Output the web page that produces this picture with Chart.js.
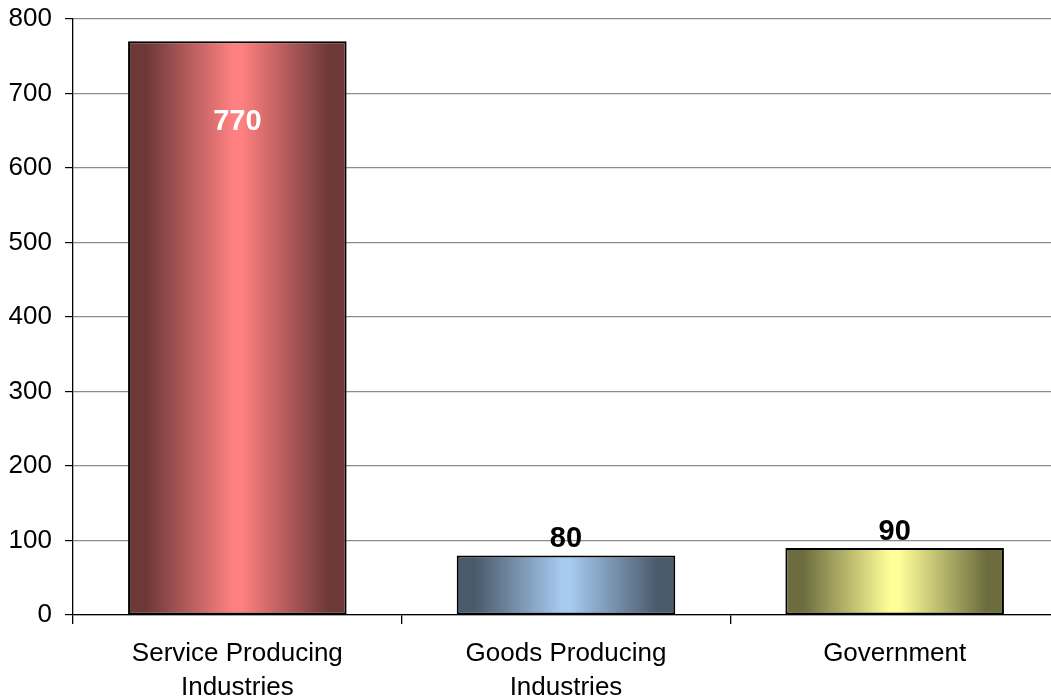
<!DOCTYPE html>
<html>
<head>
<meta charset="utf-8">
<script src="https://cdn.jsdelivr.net/npm/chart.js@4/dist/chart.umd.min.js"></script>
<style>
  html, body { margin: 0; padding: 0; background: #fff; overflow: hidden; }
  #wrap { position: absolute; left: 0; top: 0; width: 1059px; height: 696px; }
</style>
</head>
<body>
<div id="wrap"><canvas id="c"></canvas></div>
<script>
const categories = [["Service Producing", "Industries"], ["Goods Producing", "Industries"], ["Government"]];
const values = [770, 80, 90];
const darkColors = ["#6c3838", "#4a596b", "#6c6c3e"];
const lightColors = ["#ff8080", "#a6caf0", "#ffff99"];
const yTicks = [0, 100, 200, 300, 400, 500, 600, 700, 800];

const BAR_PCT = 0.665;

function barGradient(ctx) {
  const chart = ctx.chart;
  const i = ctx.dataIndex;
  const xs = chart.scales && chart.scales.x;
  if (!chart.chartArea || !xs || i === undefined) return lightColors[i || 0];
  const cw = chart.chartArea.width / values.length;
  const cx = xs.getPixelForValue(i);
  const half = cw * BAR_PCT / 2;
  const g = chart.ctx.createLinearGradient(cx - half, 0, cx + half, 0);
  const d = darkColors[i], l = lightColors[i];
  g.addColorStop(0, d);
  g.addColorStop(0.08, d);
  g.addColorStop(0.48, l);
  g.addColorStop(0.52, l);
  g.addColorStop(0.92, d);
  g.addColorStop(1, d);
  return g;
}

const valueLabels = {
  id: 'valueLabels',
  afterDatasetsDraw(chart) {
    const ctx = chart.ctx;
    const meta = chart.getDatasetMeta(0);
    ctx.save();
    ctx.font = 'bold 29px "Liberation Sans", Arial, sans-serif';
    ctx.textAlign = 'center';
    ctx.textBaseline = 'alphabetic';
    meta.data.forEach((bar, i) => {
      const v = values[i];
      if (v > 400) {
        ctx.fillStyle = '#ffffff';
        ctx.fillText(String(v), bar.x, bar.y + 89);
      } else {
        ctx.fillStyle = '#000000';
        ctx.fillText(String(v), bar.x, bar.y - 8);
      }
    });
    ctx.restore();
  }
};

new Chart(document.getElementById('c'), {
  type: 'bar',
  data: {
    labels: categories,
    datasets: [{
      data: values,
      backgroundColor: barGradient,
      borderColor: '#000000',
      borderWidth: 2,
      borderSkipped: false,
      categoryPercentage: 1,
      barPercentage: BAR_PCT
    }]
  },
  plugins: [valueLabels],
  options: {
    responsive: true,
    maintainAspectRatio: false,
    animation: false,
    layout: { padding: { top: 19, left: 0, right: 0, bottom: 0 } },
    plugins: { legend: { display: false }, tooltip: { enabled: false } },
    scales: {
      x: {
        grid: {
          display: true,
          offset: true,
          drawOnChartArea: false,
          tickLength: 9,
          tickColor: '#000000',
          lineWidth: 1.3
        },
        border: { display: true, color: '#000000', width: 1.3 },
        ticks: {
          color: '#000000',
          padding: 13,
          maxRotation: 0,
          autoSkip: false,
          font: { family: '"Liberation Sans", Arial, sans-serif', size: 26, lineHeight: 1.3 }
        },
        afterFit(scale) { scale.height = 81; scale.paddingLeft = 0; scale.paddingRight = 0; }
      },
      y: {
        min: 0,
        max: 800,
        afterBuildTicks(scale) { scale.ticks = yTicks.map(v => ({ value: v })); },
        grid: {
          color: '#8c8c8c',
          lineWidth: 1.2,
          tickLength: 8,
          tickColor: '#000000'
        },
        border: { display: true, color: '#000000', width: 1.3 },
        ticks: {
          color: '#000000',
          padding: 13,
          font: { family: '"Liberation Sans", Arial, sans-serif', size: 26 }
        },
        afterFit(scale) { scale.width = 73; scale.paddingTop = 0; scale.paddingBottom = 0; }
      }
    }
  }
});
</script>
</body>
</html>
